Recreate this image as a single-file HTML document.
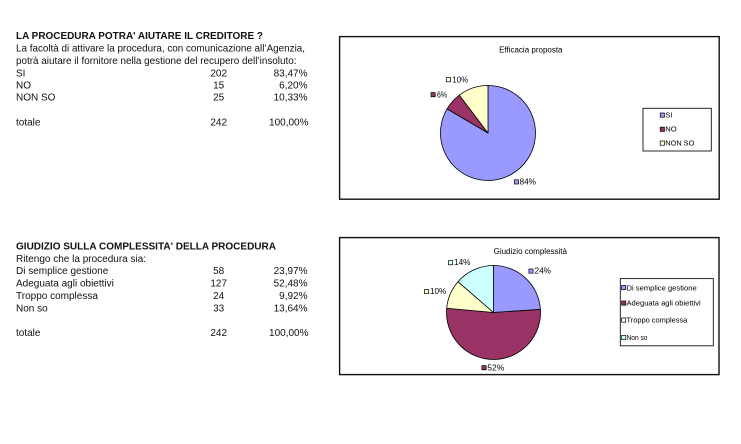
<!DOCTYPE html>
<html>
<head>
<meta charset="utf-8">
<style>
html,body{margin:0;padding:0;background:#fff;}
svg{display:block;}
text{font-family:"Liberation Sans",Arial,sans-serif;fill:#111;}
.b{font-weight:bold;font-size:10px;}
.t{font-size:10px;}
.c{font-size:8px;fill:#000;}
.l{font-size:7.6px;fill:#000;}
</style>
</head>
<body>
<svg width="741" height="444" viewBox="0 0 741 444" xmlns="http://www.w3.org/2000/svg">
<rect x="0" y="0" width="741" height="444" fill="#fff"/>

<!-- Section 1 text -->
<text class="b" x="16" y="39" textLength="247" lengthAdjust="spacingAndGlyphs">LA PROCEDURA POTRA' AIUTARE IL CREDITORE ?</text>
<text class="t" x="16" y="51.4" textLength="289" lengthAdjust="spacingAndGlyphs">La facoltà di attivare la procedura, con comunicazione all’Agenzia,</text>
<text class="t" x="16" y="63.8" textLength="280.5" lengthAdjust="spacingAndGlyphs">potrà aiutare il fornitore nella gestione del recupero dell’insoluto:</text>
<text class="t" x="16" y="76.5">SI</text>
<text class="t" x="16" y="88.4">NO</text>
<text class="t" x="16" y="100.3">NON SO</text>
<text class="t" x="16" y="125.5">totale</text>
<g class="t" text-anchor="middle">
<text class="t" x="218.7" y="76.5">202</text>
<text class="t" x="218.7" y="88.4">15</text>
<text class="t" x="218.7" y="100.3">25</text>
<text class="t" x="218.7" y="125.5">242</text>
</g>
<g text-anchor="end">
<text class="t" x="307.5" y="76.5">83,47%</text>
<text class="t" x="307.5" y="88.4">6,20%</text>
<text class="t" x="307.5" y="100.3">10,33%</text>
<text class="t" x="308.5" y="125.5">100,00%</text>
</g>

<!-- Section 2 text -->
<text class="b" x="16" y="249.5" textLength="260" lengthAdjust="spacingAndGlyphs">GIUDIZIO SULLA COMPLESSITA' DELLA PROCEDURA</text>
<text class="t" x="16" y="261.9">Ritengo che la procedura sia:</text>
<text class="t" x="16" y="274.2">Di semplice gestione</text>
<text class="t" x="16" y="286.6">Adeguata agli obiettivi</text>
<text class="t" x="16" y="298.9">Troppo complessa</text>
<text class="t" x="16" y="311.3">Non so</text>
<text class="t" x="16" y="336">totale</text>
<g text-anchor="middle">
<text class="t" x="218.7" y="274.2">58</text>
<text class="t" x="218.7" y="286.6">127</text>
<text class="t" x="218.7" y="298.9">24</text>
<text class="t" x="218.7" y="311.3">33</text>
<text class="t" x="218.7" y="336">242</text>
</g>
<g text-anchor="end">
<text class="t" x="307.5" y="274.2">23,97%</text>
<text class="t" x="307.5" y="286.6">52,48%</text>
<text class="t" x="307.5" y="298.9">9,92%</text>
<text class="t" x="307.5" y="311.3">13,64%</text>
<text class="t" x="308.5" y="336">100,00%</text>
</g>

<!-- Chart 1 -->
<rect x="339.6" y="36.6" width="379.6" height="162.6" fill="#fff" stroke="#111" stroke-width="1.4"/>
<text class="c" x="530.8" y="52.5" text-anchor="middle">Efficacia proposta</text>
<g stroke="#000" stroke-width="0.8" stroke-linejoin="round">
<path d="M488,133 L488,85.5 A47.5,47.5 0 1 1 447.05,108.90 Z" fill="#9999FF"/>
<path d="M488,133 L447.05,108.90 A47.5,47.5 0 0 1 459.29,95.16 Z" fill="#993366"/>
<path d="M488,133 L459.29,95.16 A47.5,47.5 0 0 1 488,85.5 Z" fill="#FFFFCC"/>
</g>
<g stroke="#000" stroke-width="0.7">
<rect x="446.3" y="77.6" width="4.2" height="4.2" fill="#FFFFCC"/>
<rect x="431" y="92.6" width="4.2" height="4.2" fill="#993366"/>
<rect x="514.3" y="179.8" width="4.2" height="4.2" fill="#9999FF"/>
</g>
<text class="c" x="452.3" y="82.3" textLength="16" lengthAdjust="spacingAndGlyphs">10%</text>
<text class="c" x="437" y="97.3" textLength="10" lengthAdjust="spacingAndGlyphs">6%</text>
<text class="c" x="519.5" y="184.5" textLength="16.5" lengthAdjust="spacingAndGlyphs">84%</text>

<rect x="643" y="108.3" width="68.3" height="42.7" fill="#fff" stroke="#111" stroke-width="0.9"/>
<g stroke="#000" stroke-width="0.7">
<rect x="660.2" y="113" width="4.2" height="4.2" fill="#9999FF"/>
<rect x="660.2" y="127.2" width="4.2" height="4.2" fill="#993366"/>
<rect x="660.2" y="141" width="4.2" height="4.2" fill="#FFFFCC"/>
</g>
<text class="l" x="665.3" y="117.6">SI</text>
<text class="l" x="665.3" y="131.7">NO</text>
<text class="l" x="665.3" y="145.5" textLength="29" lengthAdjust="spacingAndGlyphs">NON SO</text>

<!-- Chart 2 -->
<rect x="339.6" y="237.6" width="379.4" height="137" fill="#fff" stroke="#111" stroke-width="1.4"/>
<text class="c" x="530.3" y="254" text-anchor="middle">Giudizio complessità</text>
<g stroke="#000" stroke-width="0.8" stroke-linejoin="round">
<path d="M493.5,312.5 L493.5,265.5 A47,47 0 0 1 540.40,309.46 Z" fill="#9999FF"/>
<path d="M493.5,312.5 L540.40,309.46 A47,47 0 1 1 446.69,308.22 Z" fill="#993366"/>
<path d="M493.5,312.5 L446.69,308.22 A47,47 0 0 1 457.99,281.71 Z" fill="#FFFFCC"/>
<path d="M493.5,312.5 L457.99,281.71 A47,47 0 0 1 493.5,265.5 Z" fill="#CCFFFF"/>
</g>
<g stroke="#000" stroke-width="0.7">
<rect x="448.5" y="260.6" width="4.2" height="4.2" fill="#CCFFFF"/>
<rect x="528.9" y="269" width="4.2" height="4.2" fill="#9999FF"/>
<rect x="424.5" y="289.5" width="4.2" height="4.2" fill="#FFFFCC"/>
<rect x="481.9" y="365.6" width="4.2" height="4.2" fill="#993366"/>
</g>
<text class="c" x="454" y="265.2" textLength="16.5" lengthAdjust="spacingAndGlyphs">14%</text>
<text class="c" x="534.5" y="273.6" textLength="16.5" lengthAdjust="spacingAndGlyphs">24%</text>
<text class="c" x="430" y="294.2" textLength="16.2" lengthAdjust="spacingAndGlyphs">10%</text>
<text class="c" x="487.3" y="370.3" textLength="17" lengthAdjust="spacingAndGlyphs">52%</text>

<rect x="620.3" y="278.6" width="93" height="67.2" fill="#fff" stroke="#111" stroke-width="0.9"/>
<g stroke="#000" stroke-width="0.7">
<rect x="621.6" y="285.5" width="4.2" height="4.2" fill="#9999FF"/>
<rect x="621.6" y="301" width="4.2" height="4.2" fill="#993366"/>
<rect x="621.6" y="318" width="4.2" height="4.2" fill="#FFFFCC"/>
<rect x="621.6" y="335.4" width="4.2" height="4.2" fill="#CCFFFF"/>
</g>
<text class="l" x="626.5" y="290.3" textLength="70.2" lengthAdjust="spacingAndGlyphs">Di semplice gestione</text>
<text class="l" x="626.5" y="305.7" textLength="74.2" lengthAdjust="spacingAndGlyphs">Adeguata agli obiettivi</text>
<text class="l" x="626.5" y="322.5" textLength="60.8" lengthAdjust="spacingAndGlyphs">Troppo complessa</text>
<text class="l" x="626.5" y="339.8" textLength="21" lengthAdjust="spacingAndGlyphs">Non so</text>
</svg>
</body>
</html>
